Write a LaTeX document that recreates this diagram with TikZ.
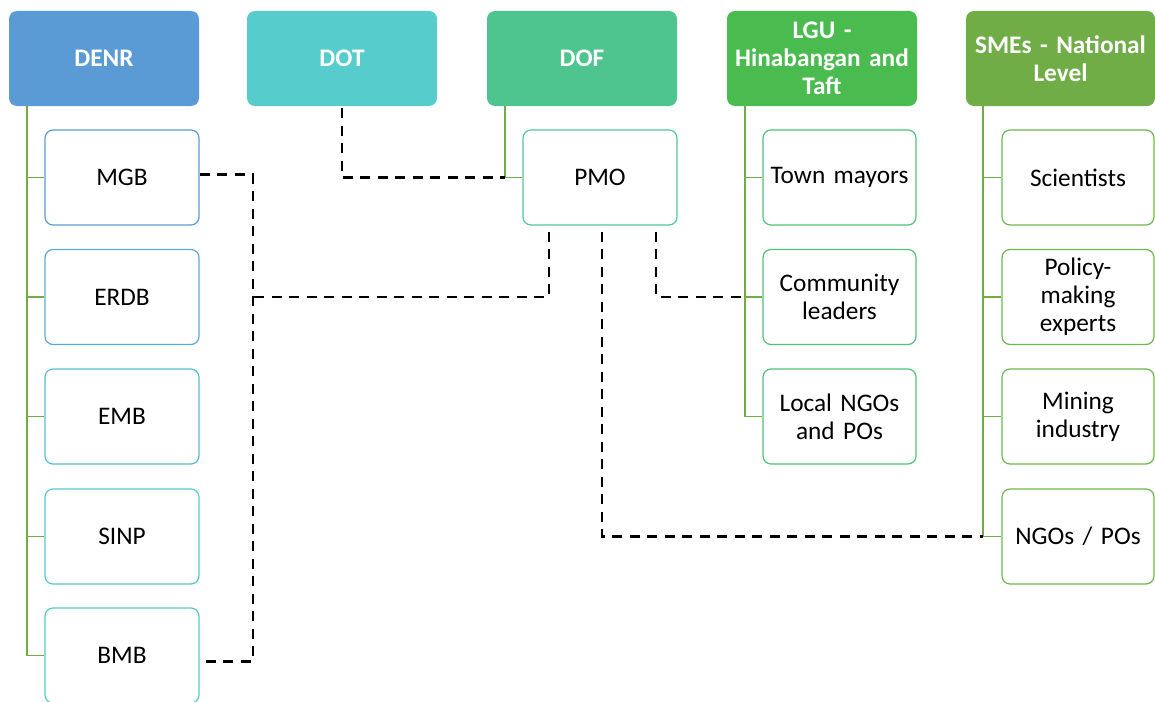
\documentclass[tikz,border=0pt]{standalone}
\usepackage{fontspec}
\setmainfont{Carlito}[WordSpace=0.8]
\definecolor{denrC}{HTML}{5B9BD5}
\definecolor{dotC}{HTML}{56CCCC}
\definecolor{dofC}{HTML}{4EC58F}
\definecolor{lguC}{HTML}{4ABB4F}
\definecolor{smeC}{HTML}{70AD47}
\definecolor{treeC}{HTML}{70AD47}
\definecolor{bA}{HTML}{5B9BD5}
\definecolor{bB}{HTML}{5BABD7}
\definecolor{bC}{HTML}{59BBD6}
\definecolor{bD}{HTML}{57C8D0}
\definecolor{bE}{HTML}{56CBC5}
\definecolor{bF}{HTML}{52C79C}
\definecolor{bG}{HTML}{4EC27A}
\definecolor{bH}{HTML}{6DB94E}
\begin{document}
\begin{tikzpicture}[x=1pt,y=-1pt,
  head/.style={rounded corners=8pt, minimum width=190pt, minimum height=95pt, inner sep=2pt, text=white,
    font=\fontsize{25.3}{28}\selectfont\bfseries, align=center, text width=184pt},
  child/.style={draw, line width=1.2pt, rounded corners=8pt, fill=white, minimum width=154pt, minimum height=95pt,
    inner sep=2pt, font=\fontsize{25.3}{28}\selectfont, align=center, text width=148pt},
  tree/.style={draw=treeC, line width=1.3pt},
  dline/.style={draw=black, line width=2.6pt, dash pattern=on 10pt off 7.5pt}]
\useasboundingbox (0,0) rectangle (1155,701);
% headers
\node[head, fill=denrC] (denr) at (104,58.5) {DENR};
\node[head, fill=dotC] (dot) at (342,58.5) {DOT};
\node[head, fill=dofC] (dof) at (582,58.5) {DOF};
\node[head, fill=lguC] (lgu) at (822,58.5) {LGU -\\Hinabangan and\\Taft};
\node[head, fill=smeC, minimum width=189pt] (sme) at (1060.5,58.5) {SMEs - National\\Level};
% trunk coordinates
\coordinate (denrT) at (27,106);
\coordinate (dofT) at (505,106);
\coordinate (lguT) at (745,106);
\coordinate (smeT) at (983,106);
% DENR children
\node[child, draw=bA] (mgb) at (122,177.5) {MGB};
\node[child, draw=bB] (erdb) at (122,297) {ERDB};
\node[child, draw=bC] (emb) at (122,416.5) {EMB};
\node[child, draw=bD] (sinp) at (122,536.5) {SINP};
\node[child, draw=bE] (bmb) at (122,655.5) {BMB};
% DOF child
\node[child, draw=bF] (pmo) at (600,177.5) {PMO};
% LGU children
\node[child, draw=bG, minimum width=153pt] (mayor) at (839.5,177.5) {Town mayors};
\node[child, draw=bG, minimum width=153pt] (comm) at (839.5,297) {Community\\leaders};
\node[child, draw=bG, minimum width=153pt] (local) at (839.5,416.5) {Local NGOs\\and POs};
% SME children
\node[child, draw=bH, minimum width=150pt] (sci) at (1078,177.5) {Scientists};
\node[child, draw=bH, minimum width=150pt] (policy) at (1078,297) {Policy-\\making\\experts};
\node[child, draw=bH, minimum width=150pt] (mining) at (1078,416.5) {Mining\\industry};
\node[child, draw=bH, minimum width=150pt] (ngo) at (1078,536.5) {NGOs / POs};
% tree lines
\draw[tree] (denrT) |- (bmb.west);
\foreach \c in {mgb,erdb,emb,sinp} \draw[tree] (denrT |- \c.west) -- (\c.west);
\draw[tree] (dofT) |- (pmo.west);
\draw[tree] (lguT) |- (local.west);
\foreach \c in {mayor,comm} \draw[tree] (lguT |- \c.west) -- (\c.west);
\draw[tree] (smeT) |- (ngo.west);
\foreach \c in {sci,policy,mining} \draw[tree] (smeT |- \c.west) -- (\c.west);
% dashed connectors
\coordinate (jx) at (253,297);
\draw[dline] ([yshift=-2pt]dot.south) |- (dofT |- pmo.west);
\draw[dline] ([yshift=3pt]mgb.east) -| (jx) |- ([yshift=-6pt]bmb.east);
\draw[dline] ([xshift=-51pt,yshift=-6pt]pmo.south) |- (jx);
\draw[dline] ([xshift=56pt,yshift=-6pt]pmo.south) |- (lguT |- comm.west);
\draw[dline] ([xshift=2pt,yshift=-6pt]pmo.south) |- (smeT |- ngo.west);
\end{tikzpicture}
\end{document}
